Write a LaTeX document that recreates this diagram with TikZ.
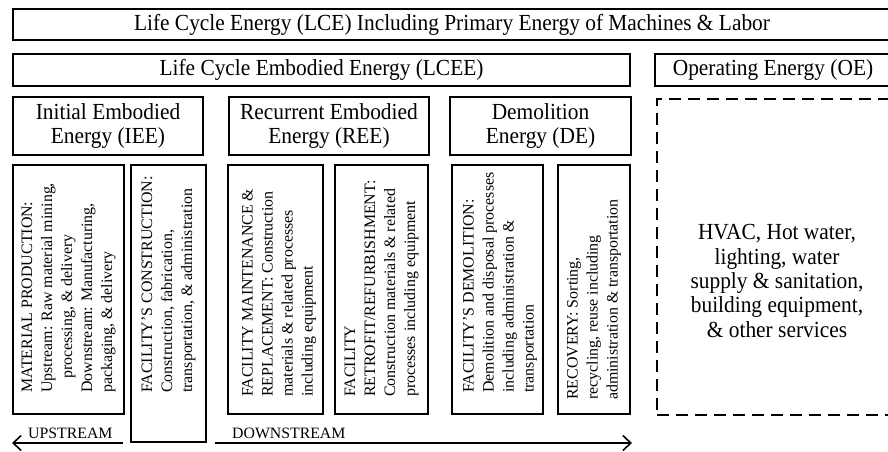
\documentclass[tikz,border=0pt]{standalone}
\usepackage{fontspec}
\setmainfont{Liberation Serif}
\newfontfamily\condserif[FakeStretch=0.93]{Liberation Serif}
\usetikzlibrary{arrows.meta}
\begin{document}
\begin{tikzpicture}[x=1pt,y=-1pt,
  hdrbox/.style={draw, line width=2.9pt, inner sep=0pt, align=center, font=\condserif\fontsize{23}{24.5}\selectfont},
  thinhdr/.style={draw, line width=1.2pt, inner sep=0pt, align=center, font=\condserif\fontsize{23}{24.5}\selectfont},
  subbox/.style={draw, line width=1.2pt, inner sep=0pt},
  dashbox/.style={draw, line width=1.3pt, dash pattern=on 12pt off 7pt, inner sep=0pt},
  vtext/.style={rotate=90, anchor=west, align=left, inner sep=0pt, font=\fontsize{15.9}{20}\selectfont},
  maintext/.style={align=center, inner sep=0pt, font=\condserif\fontsize{23}{24.3}\selectfont},
  flowlbl/.style={inner sep=0pt, anchor=base west, font=\fontsize{15.8}{18}\selectfont},
  flowarrow/.style={line width=1.6pt, -{Straight Barb[length=8pt,width=15pt,line width=1.6pt]}}]
\useasboundingbox (0,0) rectangle (888,451);
\clip (0,0) rectangle (888,451);
% top levels
\node[hdrbox, minimum width=878, minimum height=31] (lce) at (452,24.5)
  {Life Cycle Energy (LCE) Including Primary Energy of Machines \& Labor};
\node[hdrbox, minimum width=617, minimum height=32] (lcee) at (321.5,70)
  {Life Cycle Embodied Energy (LCEE)};
\node[thinhdr, minimum width=236, minimum height=32] (oe) at (773,70)
  {Operating Energy (OE)};
% second level
\node[hdrbox, minimum width=190, minimum height=58] (iee) at (108,126)
  {Initial Embodied\\Energy (IEE)};
\node[hdrbox, minimum width=200, minimum height=58] (ree) at (329,126)
  {Recurrent Embodied\\Energy (REE)};
\node[hdrbox, minimum width=181, minimum height=58] (de) at (540.5,126)
  {Demolition\\Energy (DE)};
% sub boxes
\node[subbox, minimum width=111, minimum height=249] (mp) at (68.5,289.5) {};
\node[subbox, minimum width=75, minimum height=277] (fc) at (168.5,303.5) {};
\node[subbox, minimum width=95, minimum height=249] (fm) at (275.5,289.5) {};
\node[subbox, minimum width=93, minimum height=249] (fr) at (381.5,289.5) {};
\node[subbox, minimum width=91, minimum height=249] (fd) at (497.5,289.5) {};
\node[subbox, minimum width=72, minimum height=249] (rc) at (594,289.5) {};
% rotated texts
\node[vtext] (mpt) at (68.5,393) {MATERIAL PRODUCTION:\\Upstream: Raw material mining,\\\hspace*{14pt}processing, \& delivery\\Downstream: Manufacturing,\\packaging, \& delivery};
\node[vtext] (fct) at (168.5,393) {FACILITY'S CONSTRUCTION:\\Construction, fabrication,\\transportation, \& administration};
\node[vtext] (fmt) at (279,397) {FACILITY MAINTENANCE \&\\REPLACEMENT: Construction\\materials \& related processes\\including equipment};
\node[vtext] (frt) at (381.5,397) {FACILITY\\RETROFIT/REFURBISHMENT:\\Construction materials \& related\\processes including equipment};
\node[vtext] (fdt) at (500,393) {FACILITY'S DEMOLITION:\\Demolition and disposal processes\\including administration \&\\transportation};
\node[vtext] (rct) at (594,400) {RECOVERY: Sorting,\\recycling, reuse including\\administration \& transportation};
% operating energy
\node[dashbox, minimum width=234, minimum height=316] (ops) at (774,257) {};
\node[maintext] (opst) at (777,281) {HVAC, Hot water,\\lighting, water\\supply \& sanitation,\\building equipment,\\\& other services};
% flow
\node[flowlbl] (up) at (28,438) {UPSTREAM};
\node[flowlbl] (down) at (232,438) {DOWNSTREAM};
\coordinate (u1) at (123,443);
\coordinate (u0) at (12,443);
\coordinate (d0) at (215,443);
\coordinate (d1) at (632,443);
\draw[flowarrow] (u1) -- (u0);
\draw[flowarrow] (d0) -- (d1);
\end{tikzpicture}
\end{document}
